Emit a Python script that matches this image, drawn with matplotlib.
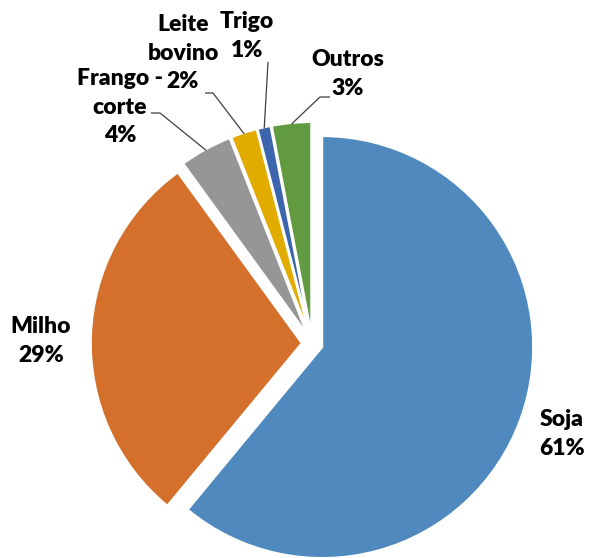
import matplotlib
matplotlib.use("Agg")
import matplotlib.pyplot as plt
import numpy as np

labels = ["Soja", "Milho", "Frango -\ncorte", "Leite\nbovino", "Trigo", "Outros"]
shares = [61, 29, 4, 2, 1, 3]
colors = ["#4f89bd", "#d4702c", "#969696", "#e2ab00", "#3c65ae", "#629a40"]

# layout in pixels (figure is 589x558, pie radius = 211 px)
W, H, R = 589, 558, 211.0
cx, cy = 312.3, 343.5
explode = 10.5 / R

def px(x, y):
    return (x - cx) / R, (cy - y) / R

# label centres (pixels) and leader-line starts (None = no leader)
label_pos = [(562, 434), (41, 341), (120, 107), (183, 53), (247, 36), (348, 74)]
leader_start = [None, None,
                [(151, 113), (160, 113)],
                [(205, 93), (213, 93)],
                [(268, 62)],
                [(330, 97), (320, 97)]]

fig = plt.figure(figsize=(W / 100, H / 100), dpi=100)
ax = fig.add_axes([0, 0, 1, 1])

wedges, _ = ax.pie(shares, colors=colors, startangle=90, counterclock=False,
                   explode=[explode] * len(shares), radius=1,
                   wedgeprops=dict(edgecolor="white", linewidth=1.5))

ax.set_xlim(-cx / R, (W - cx) / R)
ax.set_ylim(-(H - cy) / R, cy / R)
ax.set_aspect("equal")
ax.axis("off")

total = float(sum(shares))
for i, (lab, val) in enumerate(zip(labels, shares)):
    txt = "%s\n%d%%" % (lab, round(100 * val / total))
    x, y = px(*label_pos[i])
    ax.text(x, y, txt, ha="center", va="center", fontsize=16.5,
            fontweight="heavy", family="Lato", linespacing=1.45, color="black")
    if leader_start[i] is not None:
        w = wedges[i]
        mid = np.deg2rad((w.theta1 + w.theta2) / 2)
        ox, oy = w.center
        ax_pt = (ox + np.cos(mid) * 0.995, oy + np.sin(mid) * 0.995)
        pts = [px(*p) for p in leader_start[i]] + [ax_pt]
        xs, ys = zip(*pts)
        ax.plot(xs, ys, color="#404040", linewidth=0.9, solid_capstyle="butt")

fig.savefig("out.png", dpi=100)
